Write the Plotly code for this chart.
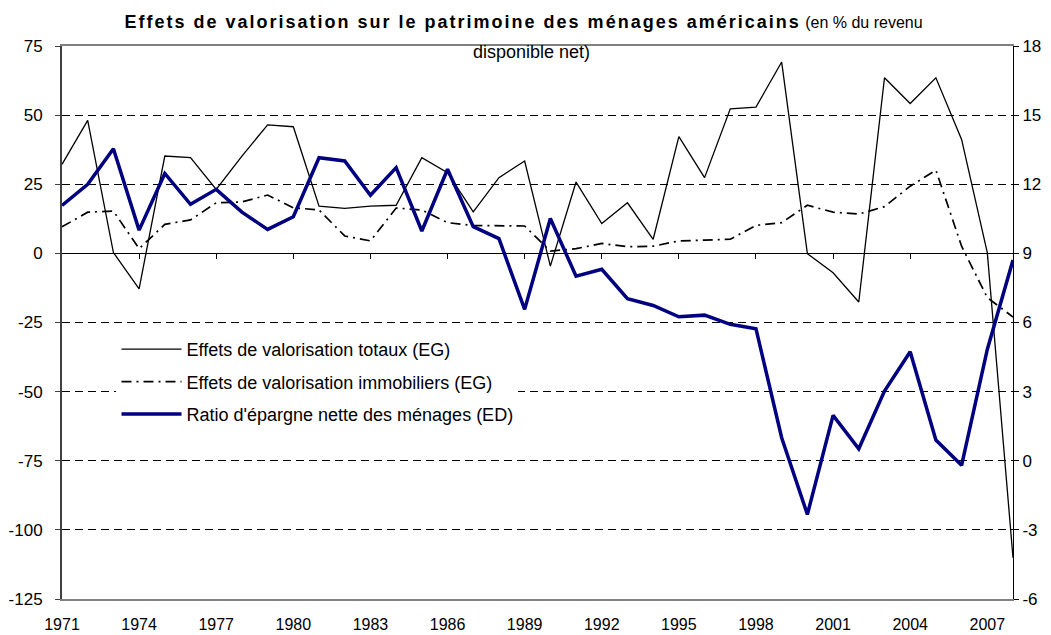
import plotly.graph_objects as go

years = list(range(1971, 2009))

total_eg = [32.2, 48.1, 0.3, -12.8, 35.2, 34.6, 23.1, 35.2, 46.5, 45.8,
            17.1, 16.3, 17.1, 17.4, 34.6, 29.2, 15.0, 27.4, 33.4, -4.6,
            25.8, 10.8, 18.3, 5.1, 42.2, 27.4, 52.3, 52.9, 69.2, -0.1,
            -7.0, -17.6, 63.5, 54.2, 63.5, 41.2, 0.3, -110.1]

immo_eg = [9.6, 14.9, 15.3, 1.7, 10.5, 12.1, 18.3, 18.6, 21.1, 16.5,
           15.7, 6.3, 4.5, 16.4, 15.7, 11.1, 10.1, 10.1, 9.9, 0.8,
           1.7, 3.6, 2.4, 2.6, 4.5, 4.8, 5.1, 10.1, 11.1, 17.4,
           14.9, 14.2, 16.9, 24.3, 30.1, 2.6, -16.0, -23.0]

epargne_ed = [11.08, 12.0, 13.54, 10.01, 12.47, 11.13, 11.78, 10.79, 10.04, 10.59,
              13.15, 13.01, 11.52, 12.72, 9.97, 12.65, 10.16, 9.64, 6.57, 10.51,
              8.01, 8.31, 7.03, 6.74, 6.25, 6.32, 5.92, 5.73, 1.0, -2.33,
              1.97, 0.52, 3.02, 4.73, 0.90, -0.20, 4.83, 8.71]

label_years = list(range(1971, 2008, 3))
left_ticks = [75, 50, 25, 0, -25, -50, -75, -100, -125]
right_ticks = [18, 15, 12, 9, 6, 3, 0, -3, -6]
names = ["Effets de valorisation totaux (EG)",
         "Effets de valorisation immobiliers (EG)",
         "Ratio d'épargne nette des ménages (ED)"]
title_bold = "Effets de valorisation sur le patrimoine des ménages américains"
title_rest = " (en % du revenu"
title_line2 = "disponible net)"

FONT = "Liberation Sans, Arial, sans-serif"

fig = go.Figure()
fig.add_trace(go.Scatter(x=years, y=total_eg, mode="lines", name=names[0],
                         legendgroup="a",
                         line=dict(color="black", width=1.3)))
fig.add_trace(go.Scatter(x=years, y=immo_eg, mode="lines", name=names[1],
                         legendgroup="b",
                         line=dict(color="black", width=1.7, dash="10px,5px,2px,5px")))
fig.add_trace(go.Scatter(x=years, y=epargne_ed, mode="lines", name=names[2],
                         legendgroup="c", yaxis="y2",
                         line=dict(color="#000080", width=3.5)))
# helper axis for the tick marks on the zero line
fig.add_trace(go.Scatter(x=[], y=[], xaxis="x2", yaxis="y", showlegend=False,
                         hoverinfo="skip"))

fig.update_layout(
    width=1043, height=627,
    margin=dict(l=54, r=38, t=38, b=36, autoexpand=False),
    paper_bgcolor="white", plot_bgcolor="white",
    font=dict(family=FONT, color="black", size=17),
    title=dict(
        text='<span style="letter-spacing:2px"><b>' + title_bold + '</b></span>'
             + '<span style="font-size:16px">' + title_rest + '</span>',
        x=0.4943, xanchor="center", xref="container",
        y=1 - 14 / 627, yanchor="middle", yref="container",
        font=dict(family=FONT, size=18, color="black")),
    annotations=[dict(text=title_line2, x=0.494, y=(591 - 44) / 553,
                      xref="paper", yref="paper", xanchor="center",
                      yanchor="middle", showarrow=False,
                      font=dict(family=FONT, size=18, color="black"))],
    xaxis=dict(range=[1971, 2008], tickvals=label_years,
               ticktext=[str(y) for y in label_years],
               showgrid=False, zeroline=False, automargin=False,
               showline=True, linecolor="#808080", linewidth=2, mirror=True,
               ticks="outside", ticklen=10, tickcolor="rgba(0,0,0,0)",
               tickfont=dict(size=16)),
    xaxis2=dict(range=[1971, 2008], overlaying="x", anchor="free",
                position=0.625, automargin=False,
                tickvals=list(range(1974, 2008, 3)),
                ticks="outside", ticklen=5, tickcolor="black", tickwidth=1,
                showticklabels=False, showgrid=False, zeroline=False,
                showline=True, linecolor="black", linewidth=1),
    yaxis=dict(range=[-125, 75], tickvals=left_ticks,
               ticktext=[str(v) for v in left_ticks], automargin=False,
               showgrid=True, gridcolor="black", gridwidth=1, griddash="8px,5px",
               zeroline=True, zerolinecolor="black", zerolinewidth=1,
               showline=True, linecolor="#404040", linewidth=2,
               ticks="outside", ticklen=5, tickcolor="#404040",
               ticklabelstandoff=9,
               tickfont=dict(size=17)),
    yaxis2=dict(range=[-6, 18], tickvals=right_ticks,
                ticktext=[str(v) for v in right_ticks],
                overlaying="y", side="right",
                showgrid=False, zeroline=False, automargin=False,
                showline=True, linecolor="black", linewidth=1,
                ticks="outside", ticklen=5, tickcolor="black",
                ticklabelstandoff=0,
                tickfont=dict(size=17)),
    legend=dict(x=0.0573, y=0.4846, xanchor="left", yanchor="top",
                bgcolor="white", borderwidth=0,
                font=dict(family=FONT, size=18, color="black"),
                tracegroupgap=6, itemwidth=60),
    showlegend=True,
)

fig.write_html("out.html")
